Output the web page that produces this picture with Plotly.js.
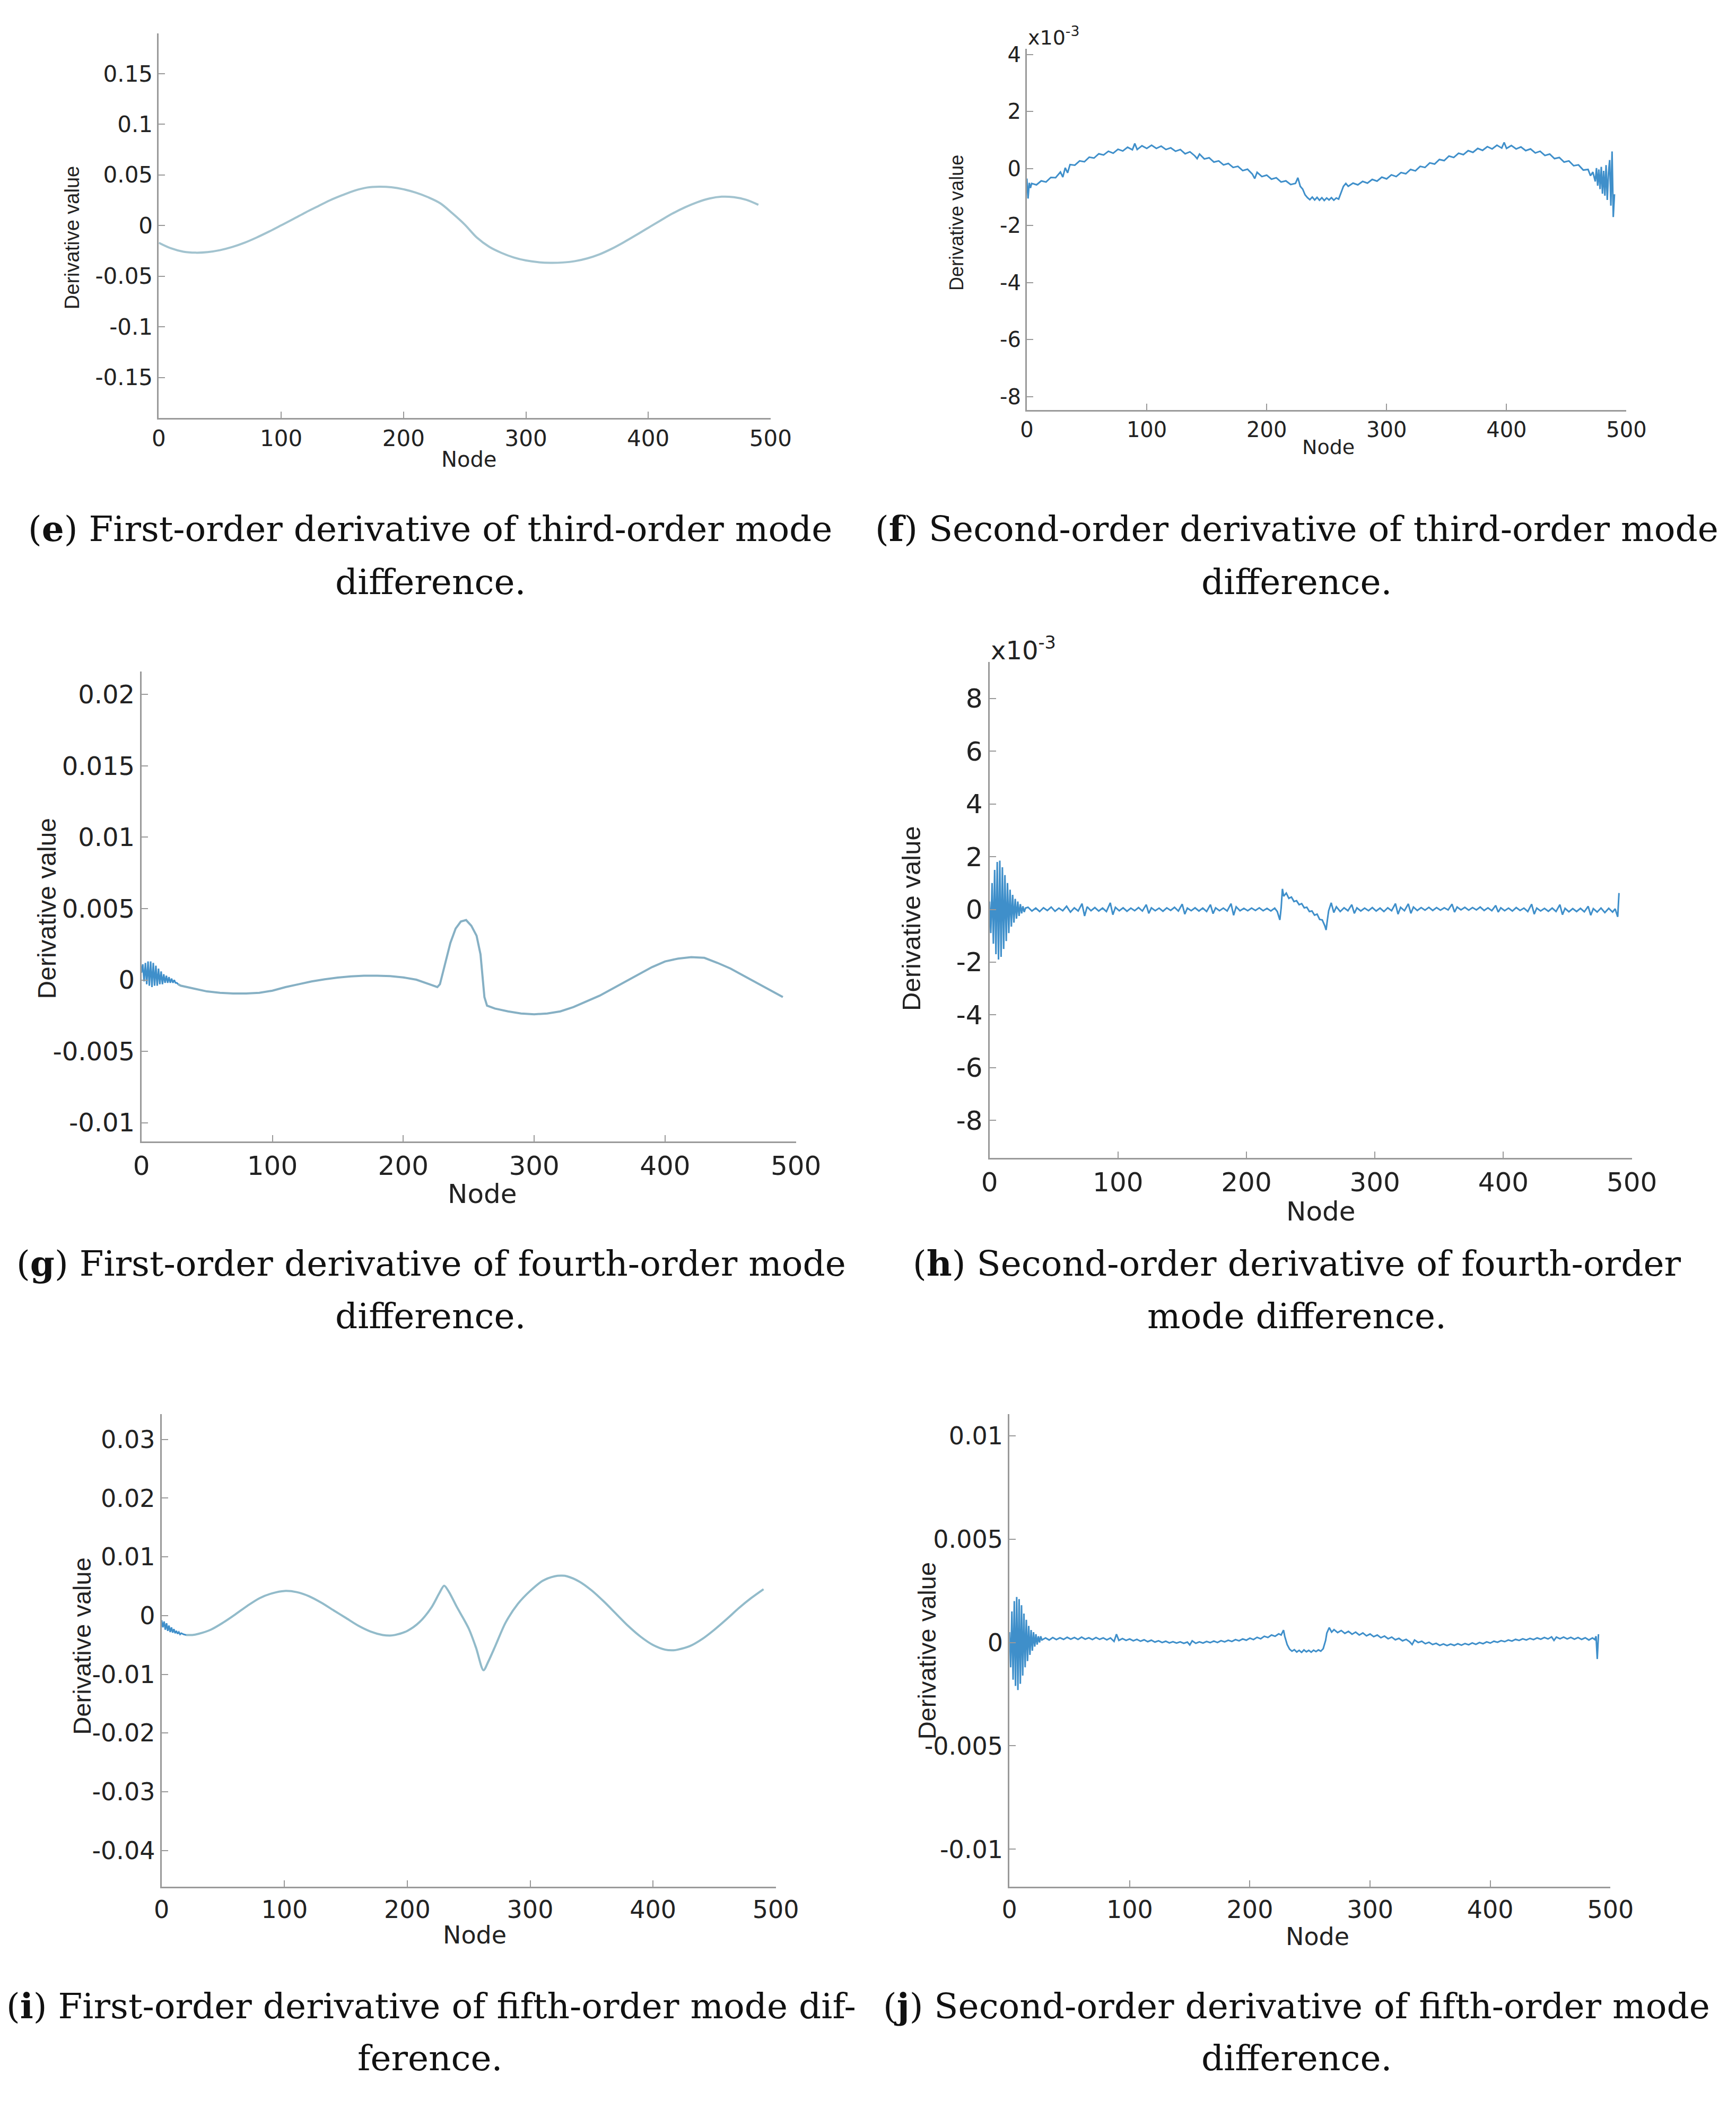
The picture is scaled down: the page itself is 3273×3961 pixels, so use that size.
<!DOCTYPE html>
<html>
<head>
<meta charset="utf-8">
<script src="https://cdn.plot.ly/plotly-3.0.1.min.js"></script>
<style>html,body{margin:0;padding:0;background:#fff;}</style>
</head>
<body>
<div id="chart" style="width:3273px;height:3961px;"></div>
<script>
// ---------- tick labels ----------
const nodeTicks = [0, 100, 200, 300, 400, 500];
const nodeTickText = ['0', '100', '200', '300', '400', '500'];
const eTicks = [-0.15, -0.1, -0.05, 0, 0.05, 0.1, 0.15];
const eTickText = ['-0.15', '-0.1', '-0.05', '0', '0.05', '0.1', '0.15'];
const fTicks = [-8, -6, -4, -2, 0, 2, 4];
const fTickText = ['-8', '-6', '-4', '-2', '0', '2', '4'];
const gTicks = [-0.01, -0.005, 0, 0.005, 0.01, 0.015, 0.02];
const gTickText = ['-0.01', '-0.005', '0', '0.005', '0.01', '0.015', '0.02'];
const hTicks = [-8, -6, -4, -2, 0, 2, 4, 6, 8];
const hTickText = ['-8', '-6', '-4', '-2', '0', '2', '4', '6', '8'];
const iTicks = [-0.04, -0.03, -0.02, -0.01, 0, 0.01, 0.02, 0.03];
const iTickText = ['-0.04', '-0.03', '-0.02', '-0.01', '0', '0.01', '0.02', '0.03'];
const jTicks = [-0.01, -0.005, 0, 0.005, 0.01];
const jTickText = ['-0.01', '-0.005', '0', '0.005', '0.01'];

// ---------- (e) first-order derivative, third-order mode difference ----------
const eNode = [0,10,20,30,40,50,60,70,80,90,100,110,120,130,140,150,160,170,180,190,200,210,220,230,240,250,260,270,280,290,300,310,320,330,340,350,360,370,380,390,400,410,420,430,440,450,460,470,480,490];
const eValue = [-0.0170,-0.0225,-0.0258,-0.0268,-0.0262,-0.0243,-0.0212,-0.0170,-0.0118,-0.0060,
  0.0002,0.0065,0.0130,0.0190,0.0250,0.0300,0.0345,0.0375,0.0383,0.0378,
  0.0358,0.0325,0.0280,0.0220,0.0120,0.0010,-0.0120,-0.0210,-0.0270,-0.0315,
  -0.0345,-0.0362,-0.0368,-0.0365,-0.0352,-0.0325,-0.0285,-0.0230,-0.0165,-0.0095,
  -0.0022,0.0050,0.0120,0.0180,0.0230,0.0267,0.0285,0.0280,0.0255,0.0205];

// ---------- (f) second-order derivative, third-order mode difference (x1e-3) ----------
const fNode = [0,1,2,3,4,
  8,12,16,20,24,28,
  30,32,34,36,
  40,44,48,52,56,60,64,68,72,76,80,84,88,
  90,92,
  96,100,104,108,112,116,120,124,128,132,136,140,
  142,144,
  148,152,156,160,164,168,172,176,180,184,188,
  190,192,
  196,200,204,208,212,216,220,224,
  226,228,230,232,234,236,238,240,242,244,246,248,250,252,254,256,258,260,262,264,266,
  268,
  272,276,280,284,288,292,296,300,304,308,312,316,320,324,328,332,336,340,344,348,352,356,360,364,368,372,376,380,384,388,392,396,
  398,
  400,404,408,412,416,420,424,428,432,436,440,444,448,452,456,460,464,468,
  470,472,
  474,475,476,477,478,479,480,481,482,483,484,485,486,487,488,489,490];
const fValue = [-0.35,-1.05,-0.50,-0.68,-0.52,
  -0.57,-0.43,-0.47,-0.31,-0.32,-0.12,
  -0.30,0.03,-0.15,0.14,
  0.12,0.27,0.24,0.40,0.37,0.52,0.48,0.61,0.54,0.68,0.62,0.75,0.66,
  0.88,0.67,
  0.80,0.71,0.82,0.71,0.79,0.67,0.73,0.61,0.67,0.52,0.59,0.45,
  0.35,0.51,
  0.34,0.38,0.23,0.27,0.13,0.18,0.04,0.08,-0.07,-0.02,-0.19,
  -0.35,-0.13,
  -0.28,-0.23,-0.37,-0.32,-0.47,-0.43,-0.56,-0.52,
  -0.32,-0.62,-0.72,-0.92,-1.02,-1.09,-1.00,-1.10,-1.01,-1.11,-1.02,-1.12,-1.03,-1.10,-1.02,-1.11,-1.03,-1.07,-0.85,-0.62,-0.52,
  -0.62,
  -0.51,-0.57,-0.45,-0.51,-0.38,-0.44,-0.30,-0.36,-0.22,-0.28,-0.14,-0.18,-0.03,-0.08,0.08,0.04,0.20,0.16,0.32,0.28,0.44,0.39,0.54,0.49,0.63,0.57,0.71,0.64,0.77,0.69,0.82,0.72,
  0.92,
  0.71,0.81,0.69,0.76,0.63,0.69,0.55,0.61,0.46,0.51,0.35,0.39,0.23,0.27,0.10,0.13,-0.05,-0.03,
  -0.25,-0.12,
  -0.45,0.02,-0.60,-0.03,-0.72,0.06,-0.88,-0.08,-0.95,0.12,-1.10,-0.15,0.30,-1.30,0.60,-1.70,-0.90];

// ---------- (g) first-order derivative, fourth-order mode difference ----------
const gBurstNode = [0,1,2,3,4,5,6,7,8,9,10,11,12,13,14,15,16,17,18,19,20,21,22,23,24,25,26,27,28];
const gBurstValue = [0.0005,0.0011,-0.0001,0.0012,-0.0003,0.0013,-0.0004,0.0013,-0.0005,0.0012,
  -0.0004,0.0010,-0.0004,0.0008,-0.0003,0.0006,-0.0003,0.0004,-0.0002,0.0003,
  -0.0002,0.0002,-0.0002,0.0001,-0.0002,0.0000,-0.0002,-0.0002,-0.0003];
const gNode = [28,30,
  40,50,60,70,80,90,100,110,120,130,140,150,160,170,180,190,200,210,220,
  226,228,
  232,236,240,244,248,252,256,
  259,262,264,
  270,280,290,300,310,320,330,340,350,360,370,380,390,400,410,420,430,440,450,460,470,480,490];
const gValue = [-0.0003,-0.0004,
  -0.0006,-0.0008,-0.0009,-0.00095,-0.00095,-0.0009,-0.00075,-0.0005,-0.0003,-0.0001,0.00005,0.00017,0.00025,0.0003,0.0003,0.00027,0.00018,0.00002,-0.0003,
  -0.0005,-0.0003,
  0.0012,0.0026,0.0036,0.0041,0.0042,0.0038,0.0031,
  0.0018,-0.0012,-0.0018,
  -0.0020,-0.0022,-0.00235,-0.0024,-0.00235,-0.0022,-0.0019,-0.0015,-0.0011,-0.0006,-0.0001,0.0004,0.0009,0.0013,0.0015,0.0016,0.00155,0.0012,0.0008,0.0003,-0.0002,-0.0007,-0.0012];

// ---------- (h) second-order derivative, fourth-order mode difference (x1e-3) ----------
const hNode = [0,1,2,3,4,5,6,7,8,9,10,11,12,13,14,15,16,17,18,19,20,21,22,23,24,25,26,27,28,
  30,33,36,39,42,45,48,51,54,57,60,63,66,69,72,74,76,79,82,85,88,91,94,96,98,
  101,104,107,110,113,116,119,122,124,126,129,132,135,138,141,144,147,150,152,154,157,
  160,163,166,169,172,174,176,179,182,185,188,190,192,195,198,201,204,207,210,213,216,219,222,224,
  226,227,228,229,231,233,235,237,239,241,243,245,247,249,251,253,255,257,259,261,262,263,264,266,268,270,
  273,276,279,282,284,286,289,292,295,298,301,304,307,310,313,316,318,320,323,326,328,330,333,336,339,
  342,345,348,351,354,357,360,362,364,367,370,373,376,379,382,385,388,391,394,396,398,
  401,404,407,410,413,416,419,422,424,426,429,432,435,438,441,444,446,448,451,454,457,460,463,466,468,
  470,473,476,479,482,485,487,489,490];
const hValue = [0.3,-0.9,1.0,-1.3,1.5,-1.7,1.8,-1.9,1.85,-1.8,1.6,-1.5,1.3,-1.2,1.0,-0.9,0.75,-0.65,0.55,-0.5,0.4,-0.35,0.3,-0.25,0.2,-0.15,0.12,-0.1,0.05,
  0.08,-0.06,0.05,-0.08,0.06,-0.04,0.09,-0.07,0.05,-0.05,0.12,-0.10,0.06,-0.06,0.22,-0.25,0.10,-0.05,0.07,-0.06,0.05,-0.08,0.25,-0.20,0.08,
  -0.05,0.06,-0.07,0.05,-0.05,0.07,-0.06,0.18,-0.15,0.06,-0.05,0.05,-0.07,0.06,-0.04,0.08,-0.06,0.20,-0.18,0.05,-0.05,
  0.06,-0.06,0.05,-0.08,0.18,-0.16,0.06,-0.05,0.05,-0.06,0.22,-0.22,0.10,-0.05,0.04,-0.05,0.05,-0.04,0.06,-0.05,0.04,-0.06,0.05,-0.08,
  -0.40,0.05,0.78,0.50,0.62,0.42,0.47,0.30,0.33,0.18,0.22,0.06,0.08,-0.08,-0.06,-0.22,-0.18,-0.38,-0.40,-0.62,-0.78,-0.40,-0.05,0.25,-0.12,0.10,
  -0.08,0.06,-0.05,0.18,-0.15,0.06,-0.06,0.05,-0.05,0.07,-0.06,0.05,-0.08,0.06,-0.05,0.22,-0.18,0.08,-0.05,0.21,-0.15,0.09,-0.04,0.07,-0.03,
  0.08,-0.04,0.07,-0.03,0.06,-0.02,0.20,-0.10,0.09,-0.02,0.08,-0.03,0.07,-0.02,0.09,-0.04,0.06,-0.05,0.15,-0.10,0.06,
  -0.05,0.05,-0.06,0.07,-0.04,0.05,-0.08,0.20,-0.18,0.05,-0.06,0.04,-0.07,0.05,-0.08,0.18,-0.20,0.04,-0.09,0.03,-0.08,0.04,-0.09,0.12,-0.22,
  0.03,-0.10,0.05,-0.12,0.04,-0.10,0.02,-0.28,0.62];

// ---------- (i) first-order derivative, fifth-order mode difference ----------
const iBurstNode = [0,1,2,3,4,5,6,7,8,9,10,11,12,13,14,15,16,18,20];
const iBurstValue = [-0.0008,-0.0020,-0.0010,-0.0024,-0.0013,-0.0026,-0.0017,-0.0028,-0.0020,-0.0029,
  -0.0023,-0.0030,-0.0026,-0.0031,-0.0028,-0.0032,-0.0030,-0.0032,-0.0033];
const iNode = [20,25,30,
  40,50,60,70,80,90,100,110,120,130,140,150,160,170,180,
  186,190,
  200,210,220,
  226,230,234,
  240,250,256,262,266,272,
  280,290,300,310,320,
  326,330,
  340,350,360,370,380,390,400,410,
  416,420,
  430,440,450,460,470,480,490];
const iValue = [-0.0033,-0.0033,-0.0031,
  -0.0024,-0.0012,0.0002,0.0017,0.0030,0.0038,0.0042,0.0040,0.0033,0.0022,0.0009,-0.0004,-0.0017,-0.0027,-0.0033,
  -0.0034,-0.0033,
  -0.0026,-0.0011,0.0015,
  0.0038,0.0051,0.0040,
  0.0016,-0.0022,-0.0055,-0.0093,-0.0078,-0.0050,
  -0.0012,0.0020,0.0042,0.0059,0.0067,
  0.0068,0.0067,
  0.0058,0.0043,0.0024,0.0003,-0.0018,-0.0036,-0.0050,-0.0058,
  -0.0059,-0.0058,
  -0.0052,-0.0040,-0.0024,-0.0006,0.0013,0.0030,0.0045];

// ---------- (j) second-order derivative, fifth-order mode difference ----------
const jNode = [0,1,2,3,4,5,6,7,8,9,10,11,12,13,14,15,16,17,18,19,20,21,22,23,24,25,26,
  27,30,33,36,39,42,45,48,51,54,57,60,63,66,69,72,75,78,81,84,87,89,91,94,97,
  100,103,106,109,112,115,118,121,124,127,130,133,136,139,142,145,148,150,152,155,158,
  161,164,167,170,173,176,179,182,185,188,191,194,197,200,203,206,209,212,215,218,221,224,226,
  228,229,231,233,235,237,239,241,243,245,247,249,251,253,255,257,259,261,263,264,266,268,
  270,273,276,279,282,285,288,291,294,297,300,303,306,309,312,315,318,321,324,327,330,333,335,337,
  340,343,346,349,352,355,358,361,364,367,370,373,376,379,382,385,388,391,394,397,
  400,403,406,409,412,415,418,421,424,427,430,433,436,439,442,445,448,451,453,455,458,
  461,464,467,470,473,476,479,482,485,487,488,489,490];
const jValue = [0.0005,-0.0012,0.0015,-0.0018,0.0020,-0.0021,0.0022,-0.0023,0.0021,-0.0020,0.0018,-0.0016,0.0014,-0.0012,0.0011,-0.0009,0.0008,-0.0006,0.0006,-0.0004,0.0005,-0.0002,0.0004,-0.0001,0.0003,0.0000,0.0003,
  0.00012,0.00022,0.00012,0.00024,0.00014,0.00023,0.00015,0.00025,0.00016,0.00024,0.00015,0.00026,0.00016,0.00023,0.00014,0.00024,0.00015,0.00022,0.00013,0.00022,0.00005,0.00040,0.00010,0.00019,0.00010,
  0.00017,0.00008,0.00015,0.00006,0.00013,0.00004,0.00011,0.00002,0.00008,0.00000,0.00006,-0.00002,0.00004,-0.00003,0.00003,-0.00004,0.00002,-0.00012,0.00008,-0.00004,0.00003,
  -0.00003,0.00005,-0.00001,0.00007,0.00000,0.00009,0.00003,0.00011,0.00005,0.00014,0.00008,0.00017,0.00011,0.00021,0.00014,0.00025,0.00018,0.00030,0.00024,0.00036,0.00030,0.00042,0.00036,
  0.00060,0.00030,-0.00010,-0.00032,-0.00042,-0.00035,-0.00046,-0.00038,-0.00048,-0.00036,-0.00045,-0.00038,-0.00047,-0.00037,-0.00044,-0.00036,-0.00042,-0.00030,0.00010,0.00045,0.00072,0.00050,
  0.00062,0.00048,0.00058,0.00044,0.00054,0.00040,0.00050,0.00036,0.00046,0.00032,0.00041,0.00028,0.00036,0.00023,0.00031,0.00018,0.00026,0.00013,0.00020,0.00008,0.00015,0.00003,-0.00010,0.00012,
  0.00000,0.00006,-0.00006,0.00001,-0.00010,-0.00004,-0.00014,-0.00007,-0.00015,-0.00008,-0.00014,-0.00006,-0.00013,-0.00005,-0.00011,-0.00002,-0.00009,0.00000,-0.00006,0.00003,
  -0.00003,0.00006,0.00001,0.00009,0.00004,0.00012,0.00007,0.00015,0.00010,0.00018,0.00012,0.00020,0.00014,0.00022,0.00016,0.00024,0.00017,0.00027,0.00010,0.00026,0.00018,
  0.00026,0.00017,0.00025,0.00016,0.00024,0.00015,0.00023,0.00012,0.00022,0.00014,0.00030,-0.00080,0.00040];

// ---------- styling ----------
const SMOOTH_E = '#a2c3cf';
const SMOOTH_G = '#86b0c4';
const SMOOTH_I = '#92bbca';
const NOISY = '#3f8fca';
const AXIS = '#9a9a9a';
const TXT = '#222222';
const SANS_WIDE = 'DejaVu Sans, Verdana, sans-serif';
const SANS = 'Liberation Sans, Arial, sans-serif';
const SERIF = 'DejaVu Serif, serif';

function xAx(domain, anchor, size) {
  return {domain: domain, anchor: anchor, range: [0, 500], tickvals: nodeTicks, ticktext: nodeTickText,
    ticks: 'inside', ticklen: 12, tickwidth: 2, tickcolor: AXIS, showline: true, linecolor: AXIS, linewidth: 3,
    showgrid: false, zeroline: false, tickfont: {family: SANS_WIDE, size: size, color: TXT}, fixedrange: true};
}
function yAx(domain, anchor, range, vals, text, size) {
  return {domain: domain, anchor: anchor, range: range, tickvals: vals, ticktext: text,
    ticks: 'inside', ticklen: 12, tickwidth: 2, tickcolor: AXIS, showline: true, linecolor: AXIS, linewidth: 3,
    showgrid: false, zeroline: false, tickfont: {family: SANS_WIDE, size: size, color: TXT}, fixedrange: true};
}

const traces = [
  {x: eNode, y: eValue, xaxis: 'x', yaxis: 'y', mode: 'lines', line: {color: SMOOTH_E, width: 4, shape: 'spline'}},
  {x: fNode, y: fValue, xaxis: 'x2', yaxis: 'y2', mode: 'lines', line: {color: NOISY, width: 3}},
  {x: gNode, y: gValue, xaxis: 'x3', yaxis: 'y3', mode: 'lines', line: {color: SMOOTH_G, width: 4}},
  {x: gBurstNode, y: gBurstValue, xaxis: 'x3', yaxis: 'y3', mode: 'lines', line: {color: NOISY, width: 3}},
  {x: hNode, y: hValue, xaxis: 'x4', yaxis: 'y4', mode: 'lines', line: {color: NOISY, width: 3}},
  {x: iNode, y: iValue, xaxis: 'x5', yaxis: 'y5', mode: 'lines', line: {color: SMOOTH_I, width: 4, shape: 'spline', smoothing: 0.8}},
  {x: iBurstNode, y: iBurstValue, xaxis: 'x5', yaxis: 'y5', mode: 'lines', line: {color: NOISY, width: 3}},
  {x: jNode, y: jValue, xaxis: 'x6', yaxis: 'y6', mode: 'lines', line: {color: NOISY, width: 3}}
];

function ann(text, x, y, size, opts) {
  return Object.assign({text: text, x: x, y: y, xref: 'paper', yref: 'paper', showarrow: false,
    xanchor: 'center', yanchor: 'middle', font: {family: SANS, size: size, color: TXT}}, opts || {});
}
function yTitle(x, y, size) { return ann('Derivative value', x, y, size, {textangle: -90}); }
function xTitle(x, y, size) { return ann('Node', x, y, size, {font: {family: SANS_WIDE, size: size, color: TXT}}); }
function cap(text, x, y) { return ann(text, x, y, 66, {font: {family: SERIF, size: 66, color: '#111111'}}); }
function expo(x, y, size) { return ann('x10<sup>-3</sup>', x, y, size, {xanchor: 'left', font: {family: SANS_WIDE, size: size, color: TXT}}); }

const layout = {
  width: 3273, height: 3961, margin: {l: 0, r: 0, t: 0, b: 0},
  paper_bgcolor: '#ffffff', plot_bgcolor: '#ffffff', showlegend: false,
  xaxis:  xAx([0.0915, 0.4439], 'y', 42),
  yaxis:  yAx([0.8011, 0.9842], 'x', [-0.19, 0.19], eTicks, eTickText, 42),
  xaxis2: xAx([0.5915, 0.9369], 'y2', 40),
  yaxis2: yAx([0.8049, 0.9767], 'x2', [-8.47, 4.2], fTicks, fTickText, 40),
  xaxis3: xAx([0.0815, 0.4585], 'y3', 50),
  yaxis3: yAx([0.4568, 0.6803], 'x3', [-0.0113, 0.0216], gTicks, gTickText, 48),
  xaxis4: xAx([0.5700, 0.9400], 'y4', 50),
  yaxis4: yAx([0.4489, 0.6849], 'x4', [-9.42, 9.38], hTicks, hTickText, 50),
  xaxis5: xAx([0.0931, 0.4469], 'y5', 46),
  yaxis5: yAx([0.1019, 0.3269], 'x5', [-0.0462, 0.0343], iTicks, iTickText, 46),
  xaxis6: xAx([0.5815, 0.9277], 'y6', 46),
  yaxis6: yAx([0.1019, 0.3269], 'x6', [-0.01182, 0.01104], jTicks, jTickText, 46),
  annotations: [
    yTitle(0.0416, 0.8869, 38), xTitle(0.2701, 0.7814, 40),
    yTitle(0.5512, 0.8940, 36), xTitle(0.7653, 0.7873, 38), expo(0.5915, 0.9828, 38),
    yTitle(0.0271, 0.5676, 48), xTitle(0.2780, 0.4317, 50),
    yTitle(0.5249, 0.5630, 49), xTitle(0.7608, 0.4234, 50), expo(0.5700, 0.6912, 48),
    yTitle(0.0472, 0.2166, 47), xTitle(0.2736, 0.0790, 46),
    yTitle(0.5338, 0.2143, 47), xTitle(0.7589, 0.0783, 46),
    cap('(<b>e</b>) First-order derivative of third-order mode', 0.2478, 0.7483),
    cap('difference.', 0.2478, 0.7228),
    cap('(<b>f</b>) Second-order derivative of third-order mode', 0.7470, 0.7483),
    cap('difference.', 0.7470, 0.7228),
    cap('(<b>g</b>) First-order derivative of fourth-order mode', 0.2485, 0.3986),
    cap('difference.', 0.2478, 0.3734),
    cap('(<b>h</b>) Second-order derivative of fourth-order', 0.7470, 0.3986),
    cap('mode difference.', 0.7470, 0.3734),
    cap('(<b>i</b>) First-order derivative of fifth-order mode dif-', 0.2485, 0.0452),
    cap('ference.', 0.2478, 0.0204),
    cap('(<b>j</b>) Second-order derivative of fifth-order mode', 0.7470, 0.0452),
    cap('difference.', 0.7470, 0.0204)
  ]
};

Plotly.newPlot('chart', traces, layout, {staticPlot: true, displayModeBar: false});
</script>
</body>
</html>
